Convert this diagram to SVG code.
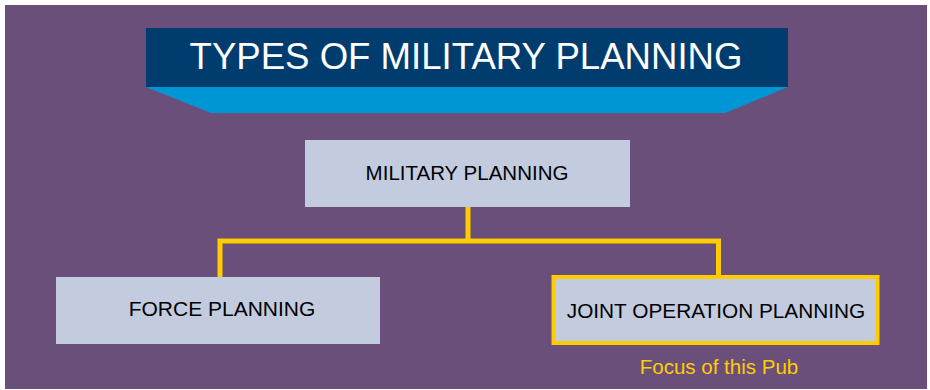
<svg xmlns="http://www.w3.org/2000/svg" width="930" height="390" viewBox="0 0 930 390">
<style>
.node{fill:#c3cbdf}
.lbl{font-family:"Liberation Sans",Arial,sans-serif;fill:#000;text-anchor:middle}
.conn{fill:none;stroke:#ffcc00;stroke-width:5;stroke-linejoin:miter}
</style>
<rect x="0" y="0" width="930" height="390" fill="#ffffff"/>
<rect x="5" y="5" width="922" height="384" fill="#6b4f7b"/>
<g id="title">
<polygon points="146,87 788,87 725,113 211,113" fill="#0096d6"/>
<rect x="146" y="28" width="642" height="59" fill="#003d6e"/>
<text x="466" y="69" font-family="Liberation Sans,Arial,sans-serif" font-size="36.6" fill="#ffffff" text-anchor="middle">TYPES OF MILITARY PLANNING</text>
</g>
<g id="connectors">
<path class="conn" d="M468,207 V241 M220,277 V241 H718.5 V277"/>
</g>
<g id="military-planning">
<rect class="node" x="305" y="140" width="325" height="67"/>
<text class="lbl" x="467" y="180" font-size="20.5">MILITARY PLANNING</text>
</g>
<g id="force-planning">
<rect class="node" x="56" y="277" width="324" height="67"/>
<text class="lbl" x="222" y="316" font-size="21">FORCE PLANNING</text>
</g>
<g id="joint-operation-planning">
<rect class="node" x="553.5" y="277" width="324" height="66" stroke="#ffcc00" stroke-width="4"/>
<text class="lbl" x="716" y="318" font-size="20.8">JOINT OPERATION PLANNING</text>
</g>
<text x="719" y="374" font-family="Liberation Sans,Arial,sans-serif" font-size="20.5" fill="#ffcc00" text-anchor="middle">Focus of this Pub</text>
</svg>
